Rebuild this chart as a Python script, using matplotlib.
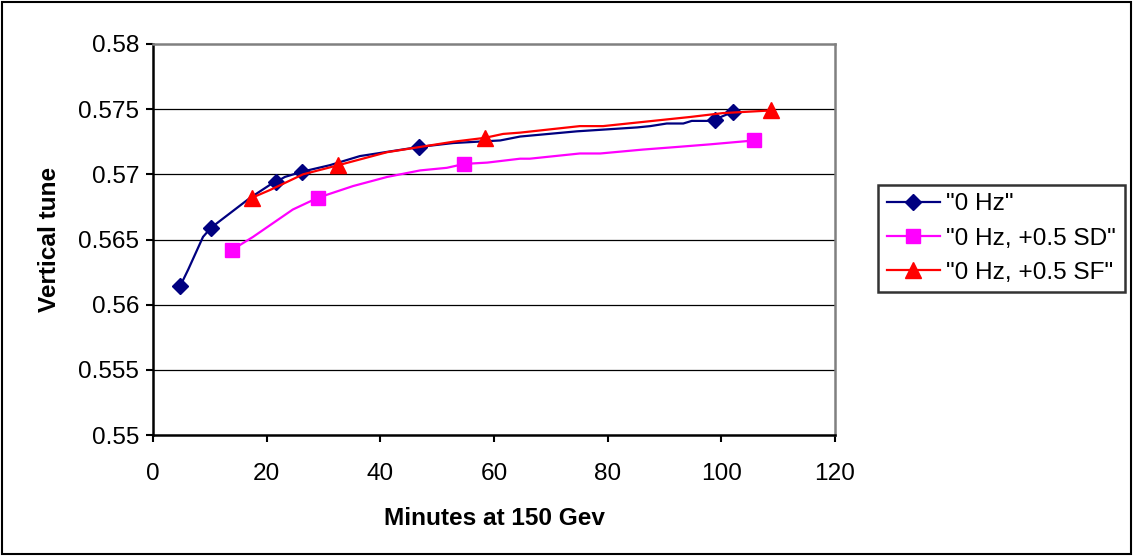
import matplotlib
matplotlib.use('Agg')
import matplotlib.pyplot as plt
from matplotlib.patches import Rectangle

plt.rcParams['font.family'] = ['Liberation Sans', 'DejaVu Sans']

# "0 Hz"
x_0hz = [4.75, 6.2, 8.8, 10.2, 13.5, 17.1, 20.6, 21.6, 23.2, 26.2, 31.1, 36.4, 46.8,
         52.8, 61.1, 64.6, 74.6, 85.2, 87.5, 90.4, 93.3, 94.8, 97.5, 98.8, 102.1]
y_0hz = [0.5614, 0.5627, 0.5652, 0.5659, 0.5670, 0.5682, 0.5692, 0.5694, 0.5698, 0.5702,
         0.5707, 0.5714, 0.5721, 0.5724, 0.5726, 0.5729, 0.5733, 0.5736, 0.5737, 0.5739,
         0.5739, 0.5741, 0.5741, 0.5742, 0.5748]
mk_0hz = [0, 3, 7, 9, 12, 23, 24]

# "0 Hz, +0.5 SD"
x_sd = [13.9, 17.6, 20.6, 24.6, 29.0, 35.2, 41.2, 47.0, 51.7, 54.8, 58.8, 64.6, 66.3,
        75.1, 78.7, 86.2, 92.2, 98.0, 105.8]
y_sd = [0.5642, 0.5652, 0.5661, 0.5673, 0.5682, 0.5691, 0.5698, 0.5703, 0.5705, 0.5708,
        0.5709, 0.5712, 0.5712, 0.5716, 0.5716, 0.5719, 0.5721, 0.5723, 0.5726]
mk_sd = [0, 4, 9, 18]

# "0 Hz, +0.5 SF"
x_sf = [17.4, 20.6, 26.4, 32.6, 41.2, 47.0, 52.8, 58.4, 61.6, 64.6, 75.1, 79.2, 94.5,
        100.3, 108.7]
y_sf = [0.5682, 0.5688, 0.5700, 0.5707, 0.5717, 0.5721, 0.5725, 0.5728, 0.5731, 0.5732,
        0.5737, 0.5737, 0.5744, 0.5747, 0.5749]
mk_sf = [0, 3, 7, 14]

labels = ['"0 Hz"', '"0 Hz, +0.5 SD"', '"0 Hz, +0.5 SF"']
xticks = [0, 20, 40, 60, 80, 100, 120]
yticks = [0.55, 0.555, 0.56, 0.565, 0.57, 0.575, 0.58]

fs = 17.6
fig = plt.figure(figsize=(11.33, 5.56), dpi=100, facecolor='white')
ax = fig.add_axes([153/1133, 1 - 435/556, (835-153)/1133, (435-44)/556])

for yv in yticks[1:-1]:
    ax.axhline(yv, color='black', lw=0.9, zorder=1)

ax.plot(x_0hz, y_0hz, color='#000080', lw=1.6, marker='D', ms=8,
        markevery=mk_0hz, label=labels[0], zorder=3)
ax.plot(x_sd, y_sd, color='#FF00FF', lw=1.6, marker='s', ms=10,
        markevery=mk_sd, mec='#FF00FF', mfc='#FF00FF', label=labels[1], zorder=3)
ax.plot(x_sf, y_sf, color='#FF0000', lw=1.6, marker='^', ms=11.5,
        markevery=mk_sf, label=labels[2], zorder=3)

ax.set_xlim(0, 120)
ax.set_ylim(0.55, 0.58)
ax.set_xticks(xticks)
ax.set_xticklabels([str(v) for v in xticks])
ax.set_yticks(yticks)
ax.set_yticklabels(['0.55', '0.555', '0.56', '0.565', '0.57', '0.575', '0.58'])
ax.tick_params(axis='both', direction='out', length=5, width=1.5, labelsize=fs)
ax.tick_params(axis='x', pad=15)
ax.tick_params(axis='y', pad=5)

ax.spines['left'].set_linewidth(1.8)
ax.spines['bottom'].set_linewidth(1.8)
ax.spines['top'].set_color('#808080')
ax.spines['right'].set_color('#808080')
ax.spines['top'].set_linewidth(1.8)
ax.spines['right'].set_linewidth(1.8)

ax.set_ylabel('Vertical tune', fontsize=fs, fontweight='bold', labelpad=12)
ax.set_xlabel('Minutes at 150 Gev', fontsize=fs, fontweight='bold', labelpad=16)

leg = ax.legend(loc='center left', bbox_to_anchor=(878/1133, 1 - 238.5/556),
                bbox_transform=fig.transFigure, fontsize=fs, frameon=True,
                fancybox=False, handlelength=2.2, handletextpad=0.25,
                labelspacing=0.5, borderpad=0.35, borderaxespad=0)
leg.get_frame().set_edgecolor('black')
leg.get_frame().set_linewidth(1.8)

fig.patches.append(Rectangle((0.002, 0.003), 0.996, 0.994, transform=fig.transFigure,
                             fill=False, edgecolor='black', lw=1.5))

fig.savefig('out.png', dpi=100)
